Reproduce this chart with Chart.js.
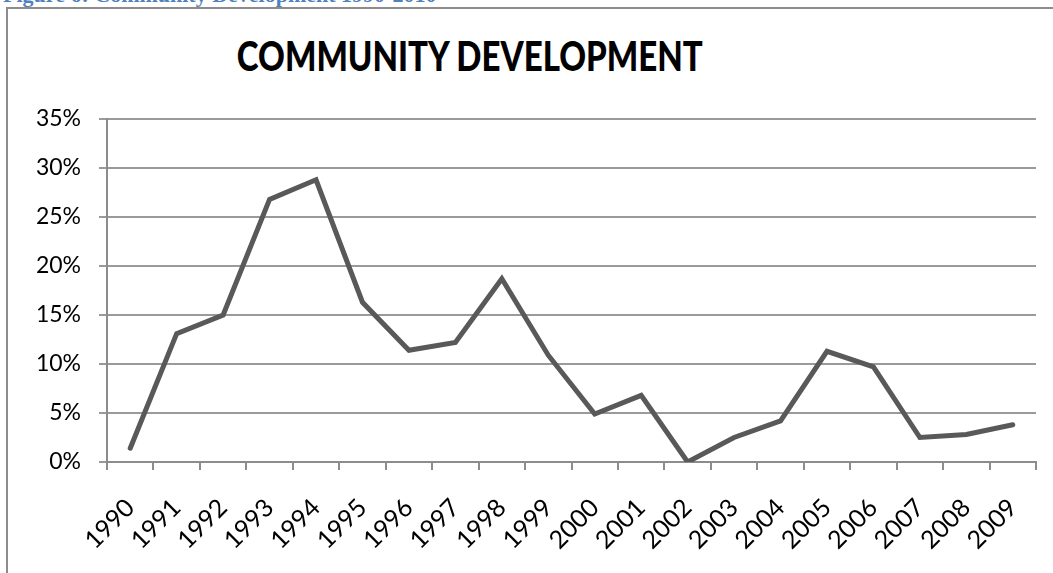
<!DOCTYPE html>
<html>
<head>
<meta charset="utf-8">
<script src="https://cdn.jsdelivr.net/npm/chart.js@4.4.1/dist/chart.umd.min.js"></script>
<style>
  html, body { margin: 0; padding: 0; background: #fff; width: 1053px; height: 573px; overflow: hidden; }
  #caption { position: absolute; left: 3px; top: -17px; font-family: "Liberation Serif", serif; font-weight: bold; font-size: 22px; line-height: 24px; color: #4F81BD; white-space: nowrap; }
  #box { position: absolute; left: 6px; top: 7px; width: 1100px; height: 700px; border-left: 2px solid #8c8c8c; border-top: 2px solid #8c8c8c; }
  #title { position: absolute; left: 0; top: 32px; width: 940px; text-align: center; font-family: Lato, "Open Sans", sans-serif; font-weight: 900; font-size: 41px; line-height: 48px; color: #000; white-space: nowrap; }
  #title span { display: inline-block; transform-origin: 50% 50%; }
  #wrap { position: absolute; left: 0; top: 0; width: 1053px; height: 573px; }
</style>
</head>
<body>
<div id="caption">Figure 6: Community Development 1990-2010</div>
<div id="box"></div>
<div id="title"><span id="titleText">COMMUNITY DEVELOPMENT</span></div>
<div id="wrap"><canvas id="c" width="1053" height="573"></canvas></div>
<script>
const years = ['1990','1991','1992','1993','1994','1995','1996','1997','1998','1999',
               '2000','2001','2002','2003','2004','2005','2006','2007','2008','2009'];
const communityDevelopment = [1.4, 13.1, 15.0, 26.8, 28.8, 16.3, 11.4, 12.2, 18.7, 10.9,
                              4.9, 6.8, 0.0, 2.5, 4.2, 11.3, 9.7, 2.5, 2.8, 3.8];
const yTickValues = [0, 5, 10, 15, 20, 25, 30, 35];

// fit title width to reference (about 466px)
const ts = document.getElementById('titleText');
const w = ts.getBoundingClientRect().width;
ts.style.transform = 'scaleX(' + (466 / w) + ')';

new Chart(document.getElementById('c'), {
  type: 'line',
  data: {
    labels: years,
    datasets: [{
      label: 'Community Development',
      data: communityDevelopment,
      borderColor: '#595959',
      borderWidth: 5,
      borderCapStyle: 'round',
      borderJoinStyle: 'miter',
      pointRadius: 0,
      pointHoverRadius: 0,
      tension: 0,
      fill: false
    }]
  },
  options: {
    responsive: false,
    devicePixelRatio: 1,
    animation: false,
    layout: { padding: { left: 0, top: 119, right: 17, bottom: 0 } },
    plugins: { legend: { display: false }, tooltip: { enabled: false }, title: { display: false } },
    scales: {
      x: {
        offset: true,
        grid: { offset: true, drawOnChartArea: false, drawTicks: true, tickLength: 8, color: '#8c8c8c', lineWidth: 2 },
        border: { color: '#8c8c8c', width: 2 },
        ticks: {
          autoSkip: false, minRotation: 45, maxRotation: 45, padding: 23,
          color: '#000', font: { family: 'Lato', size: 25 }
        },
        afterFit: s => { s.height = 111; s.paddingLeft = 0; s.paddingRight = 0; }
      },
      y: {
        min: 0, max: 35,
        afterBuildTicks: s => { s.ticks = yTickValues.map(v => ({ value: v })); },
        grid: { color: '#9a9a9a', lineWidth: 2, tickLength: 8, drawTicks: true },
        border: { color: '#8c8c8c', width: 2 },
        ticks: {
          padding: 18, color: '#000', font: { family: 'Lato', size: 23 },
          callback: v => v + '%'
        },
        afterFit: s => { s.width = 107; }
      }
    }
  }
});
</script>
</body>
</html>
